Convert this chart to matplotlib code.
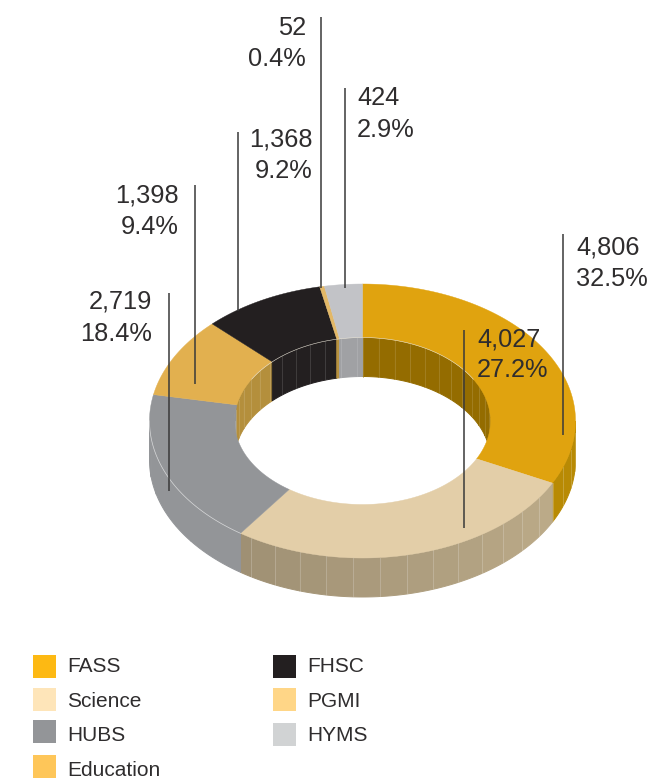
import matplotlib
matplotlib.use('Agg')
import matplotlib.pyplot as plt
from matplotlib.patches import Rectangle
import numpy as np

plt.rcParams['font.family'] = ['Liberation Sans', 'DejaVu Sans']

# data
faculties = ['FASS', 'Science', 'HUBS', 'Education', 'FHSC', 'PGMI', 'HYMS']
counts = [4806, 4027, 2719, 1398, 1368, 52, 424]
count_labels = ['4,806', '4,027', '2,719', '1,398', '1,368', '52', '424']
share_labels = ['32.5%', '27.2%', '18.4%', '9.4%', '9.2%', '0.4%', '2.9%']

# colours
legend_colors = ['#fdb913', '#fee5b9', '#939598', '#fec659', '#231f20', '#ffd687', '#d1d3d4']
top_colors = ['#e0a30f', '#e3cea8', '#939598', '#e2b04f', '#231f20', '#e3b867', '#c2c3c7']
# wall colour at the start and the end of each slice (clockwise)
outer_start = ['#b88a04', '#bbaa88', '#939598', '#b8923f', '#231f20', '#b8923f', '#a0a1a4']
outer_end = ['#b88a04', '#9e8f73', '#939598', '#b8923f', '#231f20', '#b8923f', '#a0a1a4']
inner_colors = ['#946c00', '#a39478', '#939598', '#b48f3c', '#231f20', '#b8923f', '#a0a1a4']

# layout, in pixels of the 651x781 picture
CX, CY = 362.5, 421
RX_OUT, RY_OUT = 213, 137
RX_IN, RY_IN = 128, 83.5
DEPTH = 39
FACET = 7.3

# leader x, leader top, leader bottom, text x, text align, first baseline, second baseline
label_pos = [
    (563, 234, 435, 576, 'left', 254, 286),
    (464, 330, 528, 477, 'left', 346, 377),
    (169, 293, 491, 152, 'right', 309, 341),
    (195, 185, 384, 179, 'right', 202, 234),
    (238, 132, 311, 313, 'right', 146, 178),
    (321, 17, 288, 306, 'right', 35, 66),
    (345, 88, 288, 357, 'left', 105, 137),
]
# square x, square y, text baseline
legend_pos = [
    (33, 655, 672), (33, 688, 707), (33, 720, 741), (33, 755, 776),
    (273, 655, 672), (273, 688, 707), (273, 723, 741),
]


def arc(rx, ry, a0, a1):
    # angles in degrees, clockwise from the top of the ellipse
    n = max(int(abs(a1 - a0)) * 2, 2)
    t = np.radians(np.linspace(a0, a1, n))
    return CX + rx * np.sin(t), CY - ry * np.cos(t)


def mix(c1, c2, f):
    c1 = np.array(matplotlib.colors.to_rgb(c1))
    c2 = np.array(matplotlib.colors.to_rgb(c2))
    return tuple(c1 + (c2 - c1) * f)


def wall(ax, rx, ry, a0, a1, c0, c1, rib):
    # one side wall as a row of flat facets with a thin light rib between them
    edges = np.arange(np.ceil(a0 / FACET) * FACET, a1, FACET)
    edges = np.concatenate([[a0], edges, [a1]])
    for i in range(len(edges) - 1):
        x, y = arc(rx, ry, edges[i], edges[i + 1])
        col = mix(c0, c1, (edges[i] - a0) / max(a1 - a0, 1))
        ax.fill(np.r_[x, x[::-1]], np.r_[y, y[::-1] + DEPTH], fc=col, ec=col, lw=0.7, zorder=1)
    if rib:
        for a in edges[1:-1]:
            x, y = arc(rx, ry, a, a + 0.01)
            ax.plot([x[0], x[0]], [y[0], y[0] + DEPTH], color='white', alpha=rib, lw=0.7, zorder=1.5)


fig = plt.figure(figsize=(6.51, 7.81), dpi=100)
ax = fig.add_axes([0, 0, 1, 1])
ax.set_xlim(0, 651)
ax.set_ylim(781, 0)
ax.axis('off')

angles = np.r_[0, np.cumsum(counts)] / float(sum(counts)) * 360

# inner wall, the far half of the hole
for i in range(len(counts)):
    for lo, hi in [(angles[i], min(angles[i + 1], 90)), (max(angles[i], 270), angles[i + 1])]:
        if hi > lo:
            wall(ax, RX_IN, RY_IN, lo, hi, inner_colors[i], inner_colors[i], 0.13)

# outer wall, the near half
for i in range(len(counts)):
    lo, hi = max(angles[i], 90), min(angles[i + 1], 270)
    if hi > lo:
        wall(ax, RX_OUT, RY_OUT, lo, hi, outer_start[i], outer_end[i],
             0 if faculties[i] == 'HUBS' else 0.2)

# top face
for i in range(len(counts)):
    xo, yo = arc(RX_OUT, RY_OUT, angles[i], angles[i + 1])
    xi, yi = arc(RX_IN, RY_IN, angles[i + 1], angles[i])
    ax.fill(np.r_[xo, xi], np.r_[yo, yi], fc=top_colors[i], ec=top_colors[i], lw=0.3, zorder=2)

# thin light rims
x, y = arc(RX_OUT, RY_OUT, angles[2], 270)
ax.plot(x, y, color='#d8d9da', lw=0.5, zorder=3)
x, y = arc(RX_IN, RY_IN, -60, 60)
ax.plot(x, y, color='#e8e3d6', lw=0.4, zorder=3)

# leaders and labels
for i, p in enumerate(label_pos):
    ax.plot([p[0], p[0]], [p[1], p[2]], color='#3a3a3a', alpha=0.85, lw=1.3,
            solid_capstyle='butt', zorder=4)
    ax.text(p[3], p[5], count_labels[i], ha=p[4], va='baseline', fontsize=18.3, color='#2f2d2e', zorder=5)
    ax.text(p[3], p[6], share_labels[i], ha=p[4], va='baseline', fontsize=18.3, color='#2f2d2e', zorder=5)

# legend
for i, p in enumerate(legend_pos):
    ax.add_patch(Rectangle((p[0], p[1]), 23, 23, color=legend_colors[i], lw=0))
    ax.text(p[0] + 34, p[2], faculties[i], ha='left', va='baseline', fontsize=15, color='#2f2d2e')

plt.savefig('out.png', dpi=100)
plt.close()
